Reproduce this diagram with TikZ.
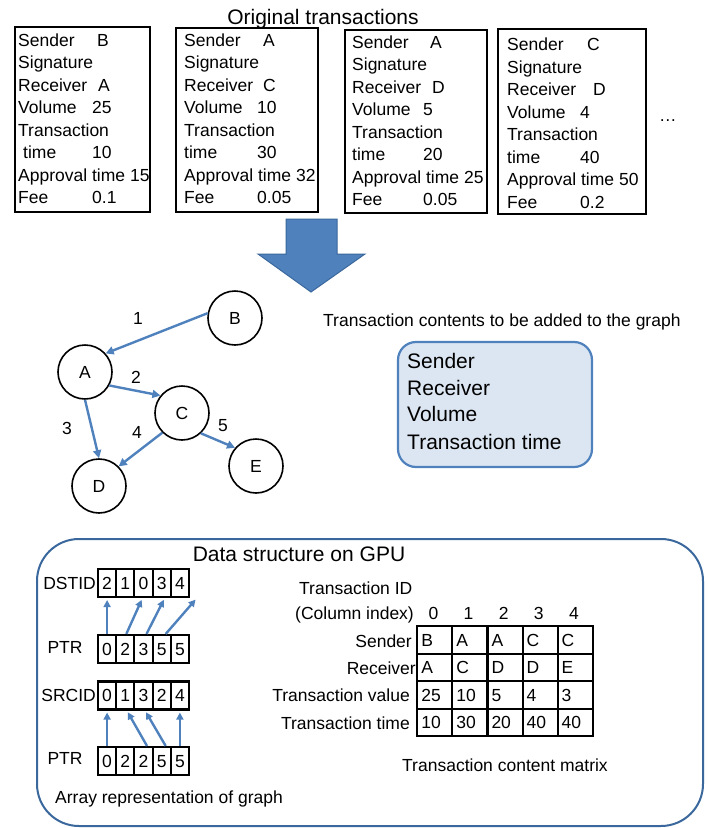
\documentclass[tikz,border=0pt]{standalone}
\usepackage{fontspec}
\setmainfont{Liberation Sans}
\usetikzlibrary{arrows.meta}
\definecolor{accent}{HTML}{4F81BD}
\definecolor{accentdark}{HTML}{3A679C}
\definecolor{panelfill}{HTML}{DCE6F2}

\begin{document}
\begin{tikzpicture}[x=1pt,y=-1pt,
  every node/.style={inner sep=0pt},
  txt/.style={anchor=west, text height=12.5pt, text depth=0pt, font=\fontsize{17.5}{21}\selectfont},
  txtc/.style={txt, anchor=center},
  txte/.style={txt, anchor=east},
  bigtxt/.style={anchor=west, text height=15pt, text depth=0pt, font=\fontsize{21}{25}\selectfont},
  heading/.style={bigtxt, anchor=center},
  txbox/.style={draw=black, line width=2.1pt},
  vertex/.style={circle, draw=black, line width=1.6pt, minimum size=54pt,
                 text height=12.5pt, text depth=0pt, font=\fontsize{17.5}{21}\selectfont},
  edge/.style={draw=accent, line width=2.4pt, -{Triangle[length=8pt,width=8pt]}},
  parr/.style={draw=accent, line width=2.4pt, -{Triangle[length=7pt,width=7pt]}, shorten >=2pt},
  blockarrow/.style={fill=accent, draw=accentdark, line width=1pt},
  panel/.style={draw=accent, fill=panelfill, line width=2.2pt, rounded corners=18pt},
  gpubox/.style={draw=accentdark, line width=2pt, rounded corners=42pt},
  cell/.style={draw=black, line width=2.1pt, minimum width=18.2pt, minimum height=28pt,
               text height=12.5pt, text depth=0pt, font=\fontsize{17.5}{21}\selectfont},
  mcell/.style={draw=black, line width=2.1pt, minimum height=27.3pt, text width=27.1pt,
                inner xsep=4pt, align=left, text height=12.5pt, text depth=0pt,
                font=\fontsize{17.5}{21}\selectfont},
]
\useasboundingbox (0,0) rectangle (708,828);

% ---------- original transactions ----------
\node[heading] (title) at (323,17) {Original transactions};

\node[txbox, minimum width=135pt, minimum height=185pt] (tx1) at (82.5,119.5) {};
\node[txbox, minimum width=142pt, minimum height=184pt] (tx2) at (247,120) {};
\node[txbox, minimum width=142pt, minimum height=183pt] (tx3) at (416,121.5) {};
\node[txbox, minimum width=148pt, minimum height=185pt] (tx4) at (572,121.5) {};

% transaction 1
\node[txt] (t1a) at (18,40) {Sender};       \node[txt] (t1av) at (97,40) {B};
\node[txt] (t1b) at (18,62.5) {Signature};
\node[txt] (t1c) at (18,85) {Receiver};     \node[txt] (t1cv) at (98,85) {A};
\node[txt] (t1d) at (18,107.5) {Volume};    \node[txt] (t1dv) at (92,107.5) {25};
\node[txt] (t1e) at (18,130) {Transaction};
\node[txt] (t1f) at (23,152.5) {time};      \node[txt] (t1fv) at (92,152.5) {10};
\node[txt] (t1g) at (18,175) {Approval time 15};
\node[txt] (t1h) at (18,197.5) {Fee};       \node[txt] (t1hv) at (92,197.5) {0.1};

% transaction 2
\node[txt] (t2a) at (184,40) {Sender};      \node[txt] (t2av) at (263,40) {A};
\node[txt] (t2b) at (184,62.5) {Signature};
\node[txt] (t2c) at (184,85) {Receiver};    \node[txt] (t2cv) at (263,85) {C};
\node[txt] (t2d) at (184,107.5) {Volume};   \node[txt] (t2dv) at (257,107.5) {10};
\node[txt] (t2e) at (184,130) {Transaction};
\node[txt] (t2f) at (184,152.5) {time};     \node[txt] (t2fv) at (257,152.5) {30};
\node[txt] (t2g) at (184,175) {Approval time 32};
\node[txt] (t2h) at (184,197.5) {Fee};      \node[txt] (t2hv) at (257,197.5) {0.05};

% transaction 3
\node[txt] (t3a) at (352,42) {Sender};      \node[txt] (t3av) at (430,42) {A};
\node[txt] (t3b) at (352,64.5) {Signature};
\node[txt] (t3c) at (352,87) {Receiver};    \node[txt] (t3cv) at (432,87) {D};
\node[txt] (t3d) at (352,109.5) {Volume};   \node[txt] (t3dv) at (423,109.5) {5};
\node[txt] (t3e) at (352,132) {Transaction};
\node[txt] (t3f) at (352,154.5) {time};     \node[txt] (t3fv) at (423,154.5) {20};
\node[txt] (t3g) at (352,177) {Approval time 25};
\node[txt] (t3h) at (352,199.5) {Fee};      \node[txt] (t3hv) at (423,199.5) {0.05};

% transaction 4
\node[txt] (t4a) at (507,44.5) {Sender};    \node[txt] (t4av) at (587,44.5) {C};
\node[txt] (t4b) at (507,67) {Signature};
\node[txt] (t4c) at (507,89.5) {Receiver};  \node[txt] (t4cv) at (593,89.5) {D};
\node[txt] (t4d) at (507,112) {Volume};     \node[txt] (t4dv) at (580,112) {4};
\node[txt] (t4e) at (507,134.5) {Transaction};
\node[txt] (t4f) at (507,157) {time};       \node[txt] (t4fv) at (580,157) {40};
\node[txt] (t4g) at (507,179.5) {Approval time 50};
\node[txt] (t4h) at (507,202) {Fee};        \node[txt] (t4hv) at (580,202) {0.2};

\node[txt, anchor=base west] (more) at (659,121) {…};

% ---------- block arrow ----------
\filldraw[blockarrow] (286,219) -- (337,219) -- (337,254) -- (365,254) -- (311,292)
  -- (258,254) -- (286,254) -- cycle;

% ---------- transaction graph ----------
\node[vertex] (A) at (85,372) {A};
\node[vertex] (B) at (235,318) {B};
\node[vertex] (C) at (182,413) {C};
\node[vertex] (D) at (99,486) {D};
\node[vertex] (E) at (256,466) {E};

\draw[edge] (B.170) -- (A.42);
\draw[edge] (A.331) -- (C.141);
\draw[edge] (A.270) -- (D.90);
\draw[edge] (C.225) -- (D.45);
\draw[edge] (C.313) -- (E.139);

\node[txtc] (l1) at (138,318) {1};
\node[txtc] (l2) at (136,377) {2};
\node[txtc] (l3) at (67,428) {3};
\node[txtc] (l4) at (137,432) {4};
\node[txtc] (l5) at (223,425) {5};

% ---------- contents kept in the graph ----------
\node[txt] (keep) at (323,320) {Transaction contents to be added to the graph};
\node[panel, minimum width=194pt, minimum height=125pt] (panel) at (495,404.5) {};
\node[bigtxt] (k1) at (407,361) {Sender};
\node[bigtxt] (k2) at (407,388) {Receiver};
\node[bigtxt] (k3) at (407,414) {Volume};
\node[bigtxt] (k4) at (407,442) {Transaction time};

% ---------- data structure on GPU ----------
\node[gpubox, minimum width=666pt, minimum height=287pt] (gpu) at (370,682.5) {};
\node[heading] (gputitle) at (299,554) {Data structure on GPU};

\foreach \v [count=\i from 0] in {2,1,0,3,4}
  \node[cell] (dst\i) at (107.1+18.2*\i,583) {\v};
\foreach \v [count=\i from 0] in {0,2,3,5,5}
  \node[cell] (ptra\i) at (107.1+18.2*\i,649) {\v};
\foreach \v [count=\i from 0] in {0,1,3,2,4}
  \node[cell] (src\i) at (107.1+18.2*\i,695.5) {\v};
\foreach \v [count=\i from 0] in {0,2,2,5,5}
  \node[cell] (ptrb\i) at (107.1+18.2*\i,761) {\v};

\node[txte] (dstlab) at (96,583) {DSTID};
\node[txtc] (ptralab) at (65,647) {PTR};
\node[txte] (srclab) at (96,695) {SRCID};
\node[txtc] (ptrblab) at (65,758) {PTR};

\draw[parr] (ptra0.north) -- (dst0.south);
\draw[parr] ([xshift=1pt]ptra1.north) -- ([xshift=-1pt]dst2.south);
\draw[parr] ([xshift=3pt]ptra2.north) -- ([xshift=3pt]dst3.south);
\draw[parr] ([xshift=4pt]ptra3.north) -- ([xshift=17pt]dst4.south);

\draw[parr] (ptrb0.north) -- (src0.south);
\draw[parr] ([xshift=3.5pt]ptrb2.north) -- ([xshift=1.5pt]src1.south);
\draw[parr] ([xshift=4pt]ptrb3.north) -- ([xshift=1.5pt]src2.south);
\draw[parr] (ptrb4.north) -- (src4.south);

\node[txt] (arrcap) at (55,797) {Array representation of graph};

% transaction content matrix
\node[txt] (tidlab) at (299,588) {Transaction ID};
\node[txt] (colidx) at (295,613) {(Column index)};
\foreach \h [count=\i from 0] in {0,1,2,3,4}
  \node[txtc] (hd\i) at (433.5+35.1*\i,613) {\h};

\foreach \v [count=\i from 0] in {B,A,A,C,C}
  \node[mcell] (ms\i) at (434.85+35.1*\i,640) {\v};
\foreach \v [count=\i from 0] in {A,C,D,D,E}
  \node[mcell] (mr\i) at (434.85+35.1*\i,667.6) {\v};
\foreach \v [count=\i from 0] in {25,10,5,4,3}
  \node[mcell] (mv\i) at (434.85+35.1*\i,695) {\v};
\foreach \v [count=\i from 0] in {10,30,20,40,40}
  \node[mcell] (mt\i) at (434.85+35.1*\i,722.3) {\v};

\node[txte] (rs) at (412,641) {Sender};
\node[txte] (rr) at (416,668) {Receiver};
\node[txte] (rv) at (410,695.5) {Transaction value};
\node[txte] (rt) at (410,723) {Transaction time};

\node[txt] (mcap) at (402,765) {Transaction content matrix};
\end{tikzpicture}
\end{document}
